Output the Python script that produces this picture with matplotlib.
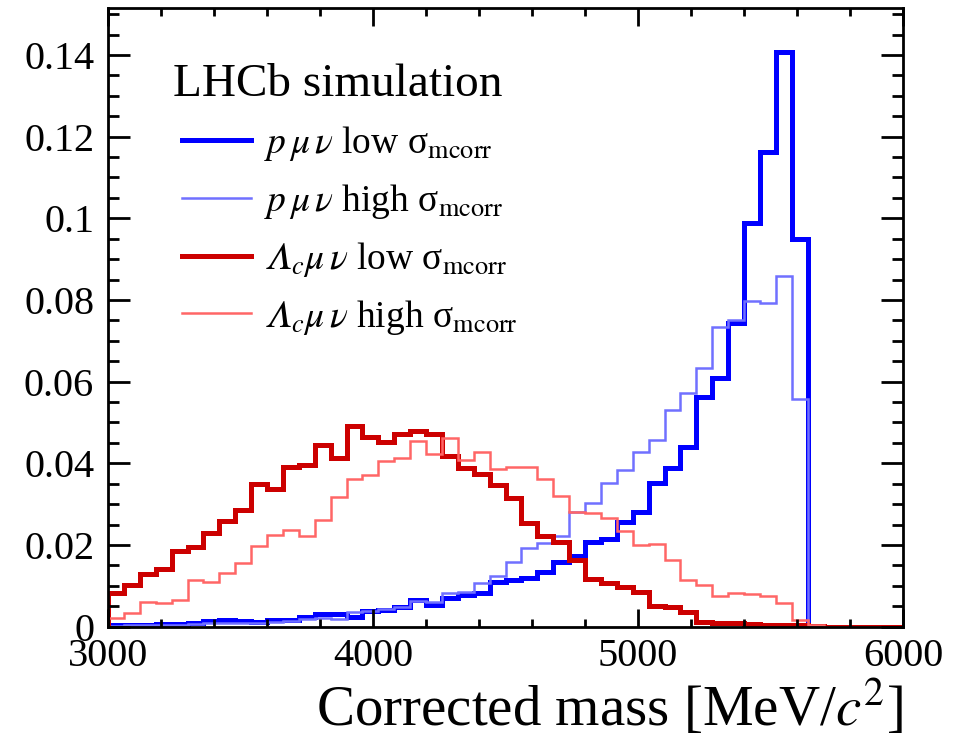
import matplotlib
matplotlib.use("Agg")
import matplotlib.pyplot as plt
from matplotlib.ticker import MultipleLocator, FormatStrFormatter
import numpy as np

plt.rcParams['font.family'] = ['Liberation Serif', 'DejaVu Serif']
plt.rcParams['mathtext.fontset'] = 'stix'

# bin edges: 50 bins of 60 MeV between 3000 and 6000
edges = np.arange(3000, 6001, 60)

blue_low = [0.0004, 0.0005, 0.0005, 0.0006, 0.0007, 0.0009, 0.0014, 0.0016, 0.0014, 0.0012,
            0.0016, 0.0016, 0.0024, 0.0030, 0.0031, 0.0023, 0.0038, 0.0041, 0.0047, 0.0065,
            0.0053, 0.0069, 0.0078, 0.0082, 0.0110, 0.0114, 0.0118, 0.0135, 0.0159, 0.0173,
            0.0208, 0.0214, 0.0256, 0.0282, 0.0353, 0.0388, 0.0439, 0.0563, 0.0610, 0.0744,
            0.0988, 0.1163, 0.1408, 0.0949, 0, 0, 0, 0, 0, 0]
blue_high = [0.0002, 0.0003, 0.0003, 0.0004, 0.0005, 0.0006, 0.0008, 0.0009, 0.0010, 0.0010,
             0.0011, 0.0015, 0.0018, 0.0021, 0.0019, 0.0035, 0.0038, 0.0043, 0.0049, 0.0064,
             0.0061, 0.0082, 0.0086, 0.0108, 0.0125, 0.0159, 0.0192, 0.0206, 0.0222, 0.0282,
             0.0304, 0.0351, 0.0384, 0.0428, 0.0457, 0.0530, 0.0573, 0.0634, 0.0733, 0.0751,
             0.0797, 0.0792, 0.0859, 0.0557, 0, 0, 0, 0, 0, 0]
red_low = [0.0083, 0.0102, 0.0129, 0.0140, 0.0186, 0.0196, 0.0230, 0.0259, 0.0286, 0.0349,
           0.0337, 0.0390, 0.0396, 0.0445, 0.0412, 0.0492, 0.0465, 0.0453, 0.0473, 0.0478,
           0.0472, 0.0418, 0.0388, 0.0375, 0.0347, 0.0314, 0.0253, 0.0223, 0.0207, 0.0163,
           0.0117, 0.0106, 0.0096, 0.0084, 0.0051, 0.0049, 0.0037, 0.0012, 0.0010, 0.0008,
           0.0006, 0.0005, 0.0004, 0.0003, 0.0001, 0, 0, 0, 0, 0]
red_high = [0.0021, 0.0034, 0.0061, 0.0057, 0.0065, 0.0114, 0.0110, 0.0131, 0.0155, 0.0198,
            0.0224, 0.0237, 0.0223, 0.0260, 0.0317, 0.0362, 0.0371, 0.0406, 0.0414, 0.0455,
            0.0424, 0.0463, 0.0408, 0.0428, 0.0385, 0.0392, 0.0390, 0.0362, 0.0321, 0.0282,
            0.0279, 0.0265, 0.0234, 0.0200, 0.0202, 0.0163, 0.0114, 0.0102, 0.0076, 0.0082,
            0.0079, 0.0076, 0.0059, 0.0016, 0.0005, 0, 0, 0, 0, 0]

labels = [r"$p\,\mu\,\nu$ low σ$_{\rm mcorr}$",
          r"$p\,\mu\,\nu$ high σ$_{\rm mcorr}$",
          r"$\mathrm{𝛬}_c\mu\,\nu$ low σ$_{\rm mcorr}$",
          r"$\mathrm{𝛬}_c\mu\,\nu$ high σ$_{\rm mcorr}$"]
colors = ['#0000ff', '#7070ff', '#cc0000', '#ff6666']
widths = [3.6, 1.8, 3.6, 1.8]
series = [blue_low, blue_high, red_low, red_high]

fig = plt.figure(figsize=(9.57, 7.37), dpi=100)
ax = fig.add_axes([0.1129, 0.1497, 0.8307, 0.8395])

handles = []
for vals, c, lw, lab in zip(series, colors, widths, labels):
    ax.stairs(vals, edges, color=c, linewidth=lw, label=lab)
    handles.append(plt.Line2D([], [], color=c, linewidth=lw))

ax.set_xlim(3000, 6000)
ax.set_ylim(0, 0.1515)

ax.xaxis.set_major_locator(MultipleLocator(1000))
ax.xaxis.set_minor_locator(MultipleLocator(200))
ax.yaxis.set_major_locator(MultipleLocator(0.02))
ax.yaxis.set_minor_locator(MultipleLocator(0.005))
ax.yaxis.set_major_formatter(FormatStrFormatter('%g'))

ax.tick_params(which='both', direction='in', top=True, right=True, width=2, labelsize=29)
ax.tick_params(axis='y', which='major', length=16, pad=10)
ax.tick_params(axis='y', which='minor', length=8)
ax.tick_params(axis='x', which='major', length=13, pad=8)
ax.tick_params(axis='x', which='minor', length=6)
for s in ax.spines.values():
    s.set_linewidth(2)

ax.set_xlabel(r"Corrected mass [MeV/$c^2$]", fontsize=41)
ax.xaxis.set_label_coords(1.0, -0.160)
ax.xaxis.label.set_horizontalalignment('right')
ax.xaxis.label.set_verticalalignment('baseline')

ax.text(0.082, 0.858, "LHCb simulation", transform=ax.transAxes, fontsize=34,
        ha='left', va='baseline')

ax.legend(handles, labels, loc='upper left', bbox_to_anchor=(0.093, 0.812),
          frameon=False, fontsize=27, handlelength=1.85, handletextpad=0.33,
          labelspacing=0.5, borderaxespad=0, borderpad=0)

plt.savefig('out.png', dpi=100)
